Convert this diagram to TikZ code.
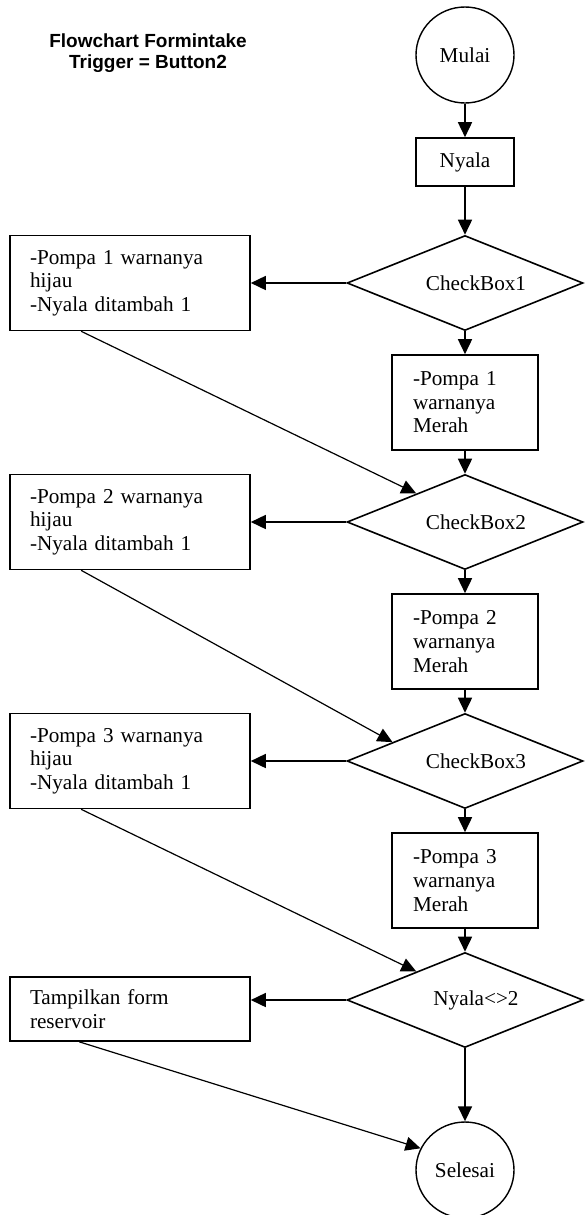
\documentclass[tikz,border=0pt]{standalone}
\usepackage{fontspec}
\setmainfont{Liberation Serif}
\newfontfamily\titlefont{Liberation Sans}
\usetikzlibrary{shapes.geometric,arrows.meta,calc}
\begin{document}
\begin{tikzpicture}[x=0.5pt,y=-0.5pt,
  every node/.style={font=\fontsize{10.6}{11.8}\selectfont},
  arr/.style={line width=0.8pt,-{Triangle[length=7.5pt,width=7pt]}},
  diag/.style={line width=0.6pt,-{Triangle[length=7.5pt,width=7pt]}},
  terminal/.style={draw,line width=0.7pt,ellipse,minimum width=49pt,minimum height=48pt,inner sep=0pt},
  procbox/.style={draw,line width=0.8pt,minimum width=49pt,minimum height=24pt,inner sep=0pt},
  decision/.style={draw,line width=0.8pt,diamond,minimum width=118pt,minimum height=47.5pt,inner sep=0pt},
  leftbox/.style={draw,line width=0.8pt,text width=100pt,inner xsep=10pt,align=left,minimum height=47.5pt},
  redbox/.style={draw,line width=0.8pt,text width=52pt,inner xsep=10.5pt,align=left,minimum height=47.5pt},
  dlabel/.style={xshift=5.5pt}
]
\useasboundingbox (0,0) rectangle (584,1215);

\node[font=\titlefont\bfseries\fontsize{9.5}{10.5}\selectfont,align=center] (title) at (148,53.5) {Flowchart Formintake\\Trigger = Button2};

\node[terminal] (mulai) at (465,55) {Mulai};
\node[procbox] (nyala) at (465,162) {Nyala};

\node[decision] (d1) at (465,283) {};
\node[dlabel] (d1t) at (d1.center) {CheckBox1};
\node[leftbox] (lb1) at (130,283) {-Pompa 1 warnanya\\hijau\\-Nyala ditambah 1};
\node[redbox] (rb1) at (465,402.5) {-Pompa 1\\warnanya\\Merah};

\node[decision] (d2) at (465,522) {};
\node[dlabel] (d2t) at (d2.center) {CheckBox2};
\node[leftbox] (lb2) at (130,522) {-Pompa 2 warnanya\\hijau\\-Nyala ditambah 1};
\node[redbox] (rb2) at (465,641.5) {-Pompa 2\\warnanya\\Merah};

\node[decision] (d3) at (465,761) {};
\node[dlabel] (d3t) at (d3.center) {CheckBox3};
\node[leftbox] (lb3) at (130,761) {-Pompa 3 warnanya\\hijau\\-Nyala ditambah 1};
\node[redbox] (rb3) at (465,880.5) {-Pompa 3\\warnanya\\Merah};

\node[decision] (d4) at (465,1000) {};
\node[dlabel] (d4t) at (d4.center) {Nyala<>2};
\node[leftbox,minimum height=32pt] (lb4) at (130,1009) {Tampilkan form\\reservoir};

\node[terminal] (sel) at (465,1170) {Selesai};

% main vertical flow
\draw[arr] (mulai) -- (nyala);
\draw[arr] (nyala) -- (d1.north);
\draw[arr] (d1.south) -- (rb1);
\draw[arr] (rb1) -- (d2.north);
\draw[arr] (d2.south) -- (rb2);
\draw[arr] (rb2) -- (d3.north);
\draw[arr] (d3.south) -- (rb3);
\draw[arr] (rb3) -- (d4.north);
\draw[arr] (d4.south) -- (sel);

% yes branches
\draw[arr] (d1.west) -- (lb1.east);
\draw[arr] (d2.west) -- (lb2.east);
\draw[arr] (d3.west) -- (lb3.east);
\draw[arr] (d4.west) -- (d4.west -| lb4.east);

% return diagonals
\draw[diag] ($(lb1.south west)+(36pt,0)$) -- ($(d2.west)!0.59!(d2.north)$);
\draw[diag] ($(lb2.south west)+(36pt,0)$) -- ($(d3.west)!0.39!(d3.north)$);
\draw[diag] ($(lb3.south west)+(36pt,0)$) -- ($(d4.west)!0.59!(d4.north)$);
\draw[diag] ($(lb4.south west)+(35pt,0)$) -- (sel.154);
\end{tikzpicture}
\end{document}
